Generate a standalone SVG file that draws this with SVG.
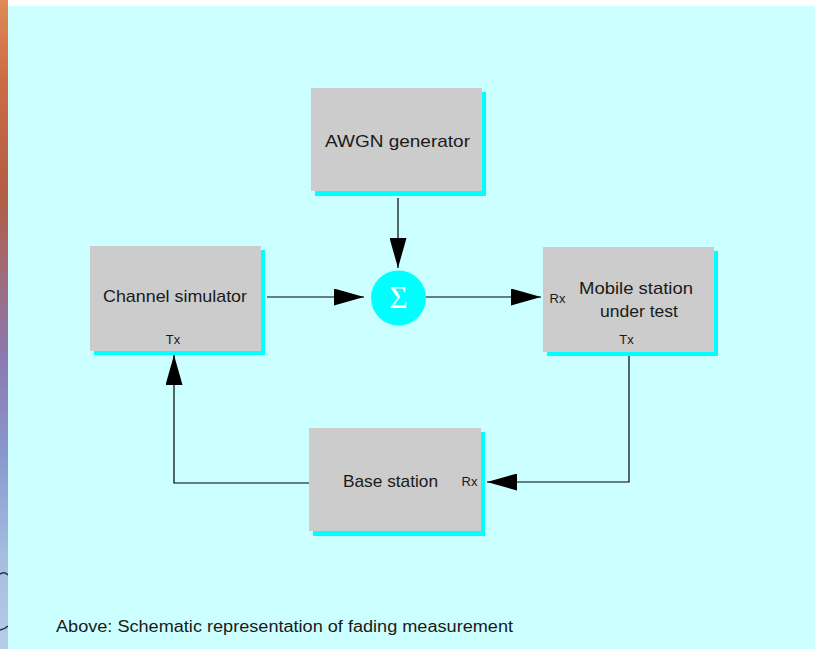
<svg xmlns="http://www.w3.org/2000/svg" width="817" height="649" viewBox="0 0 817 649">
  <defs>
    <linearGradient id="edge" x1="0" y1="0" x2="0" y2="1">
      <stop offset="0" stop-color="#e08a58"/>
      <stop offset="0.12" stop-color="#cc6c44"/>
      <stop offset="0.3" stop-color="#b45c44"/>
      <stop offset="0.42" stop-color="#a06a78"/>
      <stop offset="0.55" stop-color="#8c78b0"/>
      <stop offset="0.7" stop-color="#8898cc"/>
      <stop offset="0.85" stop-color="#a4bce0"/>
      <stop offset="1" stop-color="#b8cce8"/>
    </linearGradient>
    <marker id="arrow" viewBox="0 0 30 17" refX="30" refY="8.5" markerWidth="30" markerHeight="17" markerUnits="userSpaceOnUse" orient="auto">
      <path d="M0,0 L30,8.5 L0,17 Z" fill="#000"/>
    </marker>
  </defs>
  <style>
    .shadow { fill: #00ffff; }
    .box { fill: #cccccc; }
    .label { font-family: "Liberation Sans", "DejaVu Sans", sans-serif; font-size: 17px; fill: #1a1a1a; text-anchor: middle; }
    .port { font-family: "Liberation Sans", "DejaVu Sans", sans-serif; font-size: 13px; fill: #1a1a1a; text-anchor: middle; }
    .wire { fill: none; stroke: #000; stroke-width: 1.2; }
  </style>

  <!-- page background -->
  <rect x="0" y="0" width="817" height="649" fill="#ffffff"/>
  <rect x="0" y="0" width="8" height="649" fill="url(#edge)"/>
  <path d="M0,574 Q5,571 8,575" fill="none" stroke="#223344" stroke-width="1.5"/>
  <path d="M0,630 Q5,629 8,626" fill="none" stroke="#223344" stroke-width="1.5"/>
  <rect x="8" y="6" width="807" height="643" fill="#ccffff"/>

  <!-- connectors -->
  <g id="connectors">
    <path class="wire" d="M398,198 V268" marker-end="url(#arrow)"/>
    <path class="wire" d="M267,297 H364" marker-end="url(#arrow)"/>
    <path class="wire" d="M426,297 H541" marker-end="url(#arrow)"/>
    <path class="wire" d="M629,356 V482 H487" marker-end="url(#arrow)"/>
    <path class="wire" d="M309,483 H174 V355" marker-end="url(#arrow)"/>
  </g>

  <g id="awgn">
    <rect class="shadow" x="315" y="92" width="171" height="104"/>
    <rect class="box" x="311" y="88" width="171" height="103"/>
    <text class="label" x="397.5" y="147" textLength="145" lengthAdjust="spacingAndGlyphs">AWGN generator</text>
  </g>

  <g id="channel-simulator">
    <rect class="shadow" x="94" y="250" width="171" height="105"/>
    <rect class="box" x="90" y="246" width="171" height="105"/>
    <text class="label" x="175" y="302" textLength="144" lengthAdjust="spacingAndGlyphs">Channel simulator</text>
    <text class="port" x="173" y="344">Tx</text>
  </g>

  <g id="sum">
    <circle cx="398.5" cy="298" r="27.5" fill="#00ffff"/>
    <text x="398.5" y="308" font-family="'Liberation Serif', 'DejaVu Serif', serif" font-size="31" fill="#ffffff" text-anchor="middle">Σ</text>
  </g>

  <g id="mobile-station">
    <rect class="shadow" x="547" y="251" width="171" height="105"/>
    <rect class="box" x="543" y="247" width="171" height="105"/>
    <text class="label" x="636" y="294" textLength="114" lengthAdjust="spacingAndGlyphs">Mobile station</text>
    <text class="label" x="639" y="317" textLength="78" lengthAdjust="spacingAndGlyphs">under test</text>
    <text class="port" x="557.5" y="303">Rx</text>
    <text class="port" x="626.5" y="344">Tx</text>
  </g>

  <g id="base-station">
    <rect class="shadow" x="313" y="432" width="172" height="104"/>
    <rect class="box" x="309" y="428" width="172" height="103"/>
    <text class="label" x="390.5" y="487" textLength="95" lengthAdjust="spacingAndGlyphs">Base station</text>
    <text class="port" x="469.5" y="486">Rx</text>
  </g>

  <text x="56" y="632" font-family="'Liberation Sans', 'DejaVu Sans', sans-serif" font-size="16" fill="#1a1a1a" textLength="457" lengthAdjust="spacingAndGlyphs">Above: Schematic representation of fading measurement</text>
</svg>
